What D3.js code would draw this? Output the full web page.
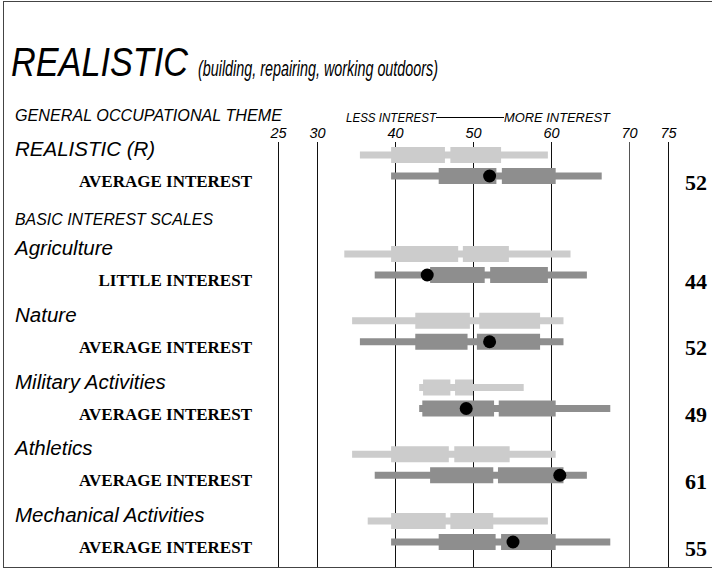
<!DOCTYPE html>
<html>
<head>
<meta charset="utf-8">
<script src="https://cdn.jsdelivr.net/npm/d3@7"></script>
<style>
  body { margin: 0; background: #fff; }
  .sans { font-family: "Liberation Sans", Arial, sans-serif; font-style: italic; }
  .serif { font-family: "Liberation Serif", "Times New Roman", serif; font-weight: bold; }
</style>
</head>
<body>
<script>
// scale labels, interest level text and standard scores
var scaleNames = ["REALISTIC (R)", "Agriculture", "Nature", "Military Activities", "Athletics", "Mechanical Activities"];
var interestLevels = ["AVERAGE INTEREST", "LITTLE INTEREST", "AVERAGE INTEREST", "AVERAGE INTEREST", "AVERAGE INTEREST", "AVERAGE INTEREST"];
var scores = [52, 44, 52, 49, 61, 55];

// ranges: [whisker low, box low, median gap low, median gap high, box high, whisker high]
var lightRanges = [
    [35.5, 39.5, 46.4, 47.1, 53.6, 59.6],
    [33.5, 39.5, 48.1, 48.7, 54.6, 62.5],
    [34.5, 42.6, 49.6, 50.8, 58.6, 61.6],
    [43.1, 43.6, 47.1, 47.7, 50.0, 56.5],
    [34.5, 39.5, 46.9, 47.6, 54.7, 60.6],
    [36.5, 39.5, 46.5, 47.1, 52.6, 59.6]
];
var darkRanges = [
    [39.5, 45.6, 53.0, 53.7, 60.6, 66.5],
    [37.4, 44.5, 51.5, 52.2, 59.6, 64.6],
    [35.5, 42.6, 49.3, 50.5, 58.6, 61.6],
    [43.1, 43.5, 52.7, 53.3, 60.6, 67.6],
    [37.4, 44.5, 52.6, 53.2, 61.6, 64.6],
    [39.5, 45.6, 52.9, 53.6, 60.6, 67.6]
];
var tickValues = [25, 30, 40, 50, 60, 70, 75];

var width = 712, height = 569;
var svg = d3.select("body").append("svg")
    .attr("width", width)
    .attr("height", height);

// frame
svg.append("rect")
    .attr("x", 3.5).attr("y", 1.5)
    .attr("width", 712).attr("height", 566)
    .attr("fill", "none")
    .attr("stroke", "#444");

var x = d3.scaleLinear().domain([40, 60]).range([395, 551]);

// row position: general theme on top, basic scales below after the heading
var yRow = d3.scaleLinear().domain([0, 1]).range([254, 320.75]);
function rowY(i) { return i == 0 ? 155 : yRow(i - 1); }

// title
svg.append("text")
    .attr("class", "sans")
    .attr("x", 11).attr("y", 76)
    .attr("font-size", 40)
    .attr("textLength", 177)
    .attr("lengthAdjust", "spacingAndGlyphs")
    .text("REALISTIC");
svg.append("text")
    .attr("class", "sans")
    .attr("x", 198).attr("y", 76)
    .attr("font-size", 22)
    .attr("textLength", 240)
    .attr("lengthAdjust", "spacingAndGlyphs")
    .text("(building, repairing, working outdoors)");

svg.append("text")
    .attr("class", "sans")
    .attr("x", 15).attr("y", 121)
    .attr("font-size", 16)
    .attr("textLength", 267)
    .attr("lengthAdjust", "spacingAndGlyphs")
    .text("GENERAL OCCUPATIONAL THEME");

// less / more interest caption
svg.append("text")
    .attr("class", "sans")
    .attr("x", 346).attr("y", 122)
    .attr("font-size", 13)
    .attr("textLength", 90)
    .attr("lengthAdjust", "spacingAndGlyphs")
    .text("LESS INTEREST");
svg.append("line")
    .attr("x1", 436).attr("x2", 504)
    .attr("y1", 117.5).attr("y2", 117.5)
    .attr("stroke", "#000");
svg.append("text")
    .attr("class", "sans")
    .attr("x", 610).attr("y", 122)
    .attr("text-anchor", "end")
    .attr("font-size", 13)
    .attr("textLength", 106)
    .attr("lengthAdjust", "spacingAndGlyphs")
    .text("MORE INTEREST");

svg.append("text")
    .attr("class", "sans")
    .attr("x", 15).attr("y", 225)
    .attr("font-size", 16)
    .attr("textLength", 198)
    .attr("lengthAdjust", "spacingAndGlyphs")
    .text("BASIC INTEREST SCALES");

// axis with long ticks as grid
var axis = d3.axisTop(x)
    .tickValues(tickValues)
    .tickSize(-(567 - 142))
    .tickPadding(4);

var axisG = svg.append("g")
    .attr("transform", "translate(0,142)")
    .call(axis);
axisG.select(".domain").remove();
axisG.selectAll(".tick line")
    .attr("stroke", function(d) { return d == 70 ? "#555" : "#111"; });
axisG.selectAll(".tick text")
    .attr("class", "sans")
    .attr("font-size", 14.5)
    .attr("fill", "#000");

// rows
scaleNames.forEach(function(name, i) {
    var yl = rowY(i);
    var yd = yl + 21;

    svg.append("text")
        .attr("class", "sans")
        .attr("x", 15).attr("y", yl + 1)
        .attr("font-size", 20.5)
        .text(name);

    svg.append("text")
        .attr("class", "serif")
        .attr("x", 252).attr("y", yd + 11)
        .attr("text-anchor", "end")
        .attr("font-size", 17)
        .text(interestLevels[i]);

    [[lightRanges[i], yl, "#cccccc"], [darkRanges[i], yd, "#8e8e8e"]].forEach(function(b) {
        var r = b[0], cy = b[1], col = b[2];
        // thin whisker
        svg.append("rect")
            .attr("x", x(r[0])).attr("y", cy - 3.5)
            .attr("width", x(r[5]) - x(r[0])).attr("height", 7)
            .attr("fill", col);
        // box, split at median
        svg.append("rect")
            .attr("x", x(r[1])).attr("y", cy - 8)
            .attr("width", x(r[2]) - x(r[1])).attr("height", 16)
            .attr("fill", col);
        svg.append("rect")
            .attr("x", x(r[3])).attr("y", cy - 8)
            .attr("width", x(r[4]) - x(r[3])).attr("height", 16)
            .attr("fill", col);
    });

    svg.append("circle")
        .attr("cx", x(scores[i]) + 1).attr("cy", yd)
        .attr("r", 6.5)
        .attr("fill", "#000");

    svg.append("text")
        .attr("class", "serif")
        .attr("x", 707).attr("y", yd + 13.5)
        .attr("text-anchor", "end")
        .attr("font-size", 22)
        .text(scores[i]);
});
</script>
</body>
</html>
